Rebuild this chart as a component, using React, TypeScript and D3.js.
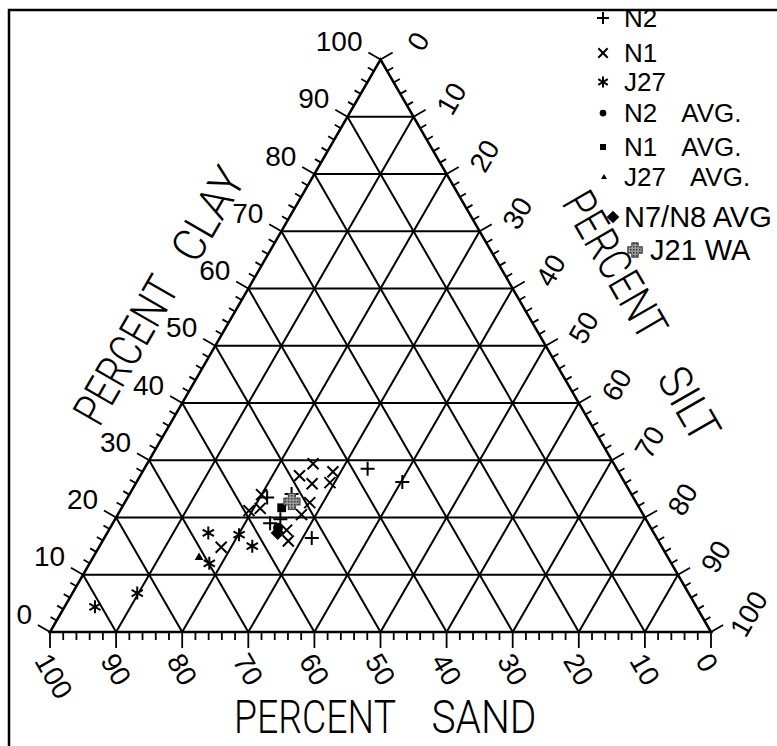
import React from "react";
import * as d3 from "d3";

// ---------- data (percent sand / percent clay; silt = 100 - sand - clay) ----------
const n2Sand = [37.7, 33.6, 52.2, 55.4, 57.2, 55.3, 51.4];
const n2Clay = [28.5, 26.2, 16.4, 23.5, 19.0, 19.7, 24.1];

const n1Sand = [45.5, 48.6, 43.2, 44.6, 47.4, 49.4, 51.7, 56.0, 57.4, 59.3, 55.3, 56.0, 66.7];
const n1Clay = [29.4, 27.3, 28.0, 26.1, 25.9, 22.6, 20.5, 24.0, 21.6, 21.2, 17.8, 15.9, 14.8];

const j27Sand = [67.4, 62.9, 61.9, 69.9, 83.4, 91.0];
const j27Clay = [17.3, 17.0, 15.0, 12.0, 6.8, 4.4];

const avgNames = ["N2 AVG.", "N1 AVG.", "J27 AVG.", "N7/N8 AVG", "J21 WA"];
const avgSand = [56.4, 54.1, 70.9, 56.9, 52.0];
const avgClay = [18.2, 21.7, 13.1, 17.3, 22.8];

const majorTicks = [0, 10, 20, 30, 40, 50, 60, 70, 80, 90, 100];
const gridLevels = [10, 20, 30, 40, 50, 60, 70, 80, 90];
const minorStep = 2;

const legendLabels = ["N2", "N1", "J27", "N2", "N1", "J27", "N7/N8 AVG", "J21 WA"];

// ---------- geometry ----------
const LEFT = 50;
const RIGHT = 711;
const BASE = 632;
const SIDE = RIGHT - LEFT;
const HEIGHT = (SIDE * Math.sqrt(3)) / 2;

const xs = d3.scaleLinear().domain([0, 100]).range([LEFT, RIGHT]);
const ys = d3.scaleLinear().domain([0, 100]).range([BASE, BASE - HEIGHT]);

function pos(sand: number, clay: number): [number, number] {
  const silt = 100 - sand - clay;
  return [xs(silt + clay / 2), ys(clay)];
}

const FONT = "'Liberation Sans', Arial, Helvetica, sans-serif";
const TFONT = "Roboto, 'Liberation Sans', Arial, sans-serif";

type MK = "plus" | "x" | "ast" | "circle" | "square" | "tri" | "diamond" | "blob";

function Marker({ kind, x, y, s = 1 }: { kind: MK; x: number; y: number; s?: number }) {
  const sw = 2;
  switch (kind) {
    case "plus": {
      const r = 7 * s;
      return <path d={`M${x - r},${y}H${x + r}M${x},${y - r}V${y + r}`} stroke="#000" strokeWidth={sw} fill="none" />;
    }
    case "x": {
      const r = 5.5 * s;
      return <path d={`M${x - r},${y - r}L${x + r},${y + r}M${x - r},${y + r}L${x + r},${y - r}`} stroke="#000" strokeWidth={sw} fill="none" />;
    }
    case "ast": {
      const r = 6.5 * s;
      const a = r * Math.cos(Math.PI / 6);
      const b = r * Math.sin(Math.PI / 6);
      return (
        <path
          d={`M${x},${y - r}V${y + r}M${x - a},${y - b}L${x + a},${y + b}M${x - a},${y + b}L${x + a},${y - b}`}
          stroke="#000"
          strokeWidth={sw}
          fill="none"
        />
      );
    }
    case "circle":
      return <circle cx={x} cy={y} r={4.5 * s} fill="#000" />;
    case "square":
      return <rect x={x - 4 * s} y={y - 4 * s} width={8 * s} height={8 * s} fill="#000" />;
    case "tri": {
      const r = 4 * s;
      return <path d={`M${x},${y - r}L${x + r},${y + r * 0.7}L${x - r},${y + r * 0.7}Z`} fill="#000" />;
    }
    case "diamond": {
      const r = 7 * s;
      return <path d={`M${x},${y - r}L${x + r},${y}L${x},${y + r}L${x - r},${y}Z`} fill="#000" />;
    }
    case "blob": {
      const a = 3.5 * s;
      const b = 8 * s;
      const d = `M${x - a},${y - b}H${x + a}V${y - a}H${x + b}V${y + a}H${x + a}V${y + b}H${x - a}V${y + a}H${x - b}V${y - a}H${x - a}Z`;
      return (
        <g>
          <path d={d} fill="url(#stipple)" stroke="#444" strokeWidth={1.2} strokeLinejoin="round" />
          <circle cx={x} cy={y} r={5.5 * s} fill="url(#stipple)" stroke="none" />
        </g>
      );
    }
  }
  return null;
}

const avgKinds: MK[] = ["circle", "square", "tri", "diamond", "blob"];
const legendKinds: MK[] = ["plus", "x", "ast", "circle", "square", "tri", "diamond", "blob"];

export default function App() {
  const apex = pos(0, 100);
  const lc = pos(100, 0);
  const rc = pos(0, 0);

  const grid: JSX.Element[] = [];
  gridLevels.forEach((k) => {
    const a1 = pos(100 - k, k), a2 = pos(0, k);
    const b1 = pos(k, 0), b2 = pos(k, 100 - k);
    const c1 = pos(100 - k, 0), c2 = pos(0, 100 - k);
    grid.push(<line key={"c" + k} x1={a1[0]} y1={a1[1]} x2={a2[0]} y2={a2[1]} />);
    grid.push(<line key={"s" + k} x1={b1[0]} y1={b1[1]} x2={b2[0]} y2={b2[1]} />);
    grid.push(<line key={"t" + k} x1={c1[0]} y1={c1[1]} x2={c2[0]} y2={c2[1]} />);
  });

  const ticks: JSX.Element[] = [];
  const c30 = Math.cos(Math.PI / 6), s30 = 0.5;
  for (let v = 0; v <= 100; v += minorStep) {
    const major = v % 10 === 0;
    const L = major ? 14 : 7;
    const LB = major ? 16 : 8;
    const pl = pos(100 - v, v);
    ticks.push(<line key={"lt" + v} x1={pl[0]} y1={pl[1]} x2={pl[0] - c30 * L} y2={pl[1] - s30 * L} />);
    const pr = pos(0, 100 - v);
    ticks.push(<line key={"rt" + v} x1={pr[0]} y1={pr[1]} x2={pr[0] + c30 * L} y2={pr[1] - s30 * L} />);
    const pb = pos(v, 0);
    ticks.push(<line key={"bt" + v} x1={pb[0]} y1={pb[1]} x2={pb[0]} y2={pb[1] + LB} />);
  }

  const labels: JSX.Element[] = [];
  majorTicks.forEach((v) => {
    const pl = pos(100 - v, v);
    labels.push(
      <text key={"ll" + v} x={pl[0] - 18} y={pl[1] - 18} textAnchor="end" dominantBaseline="central" fontSize={28}>
        {v}
      </text>
    );
    const pr = pos(0, 100 - v);
    const rx = pr[0] + 38, ry = pr[1] - 18;
    labels.push(
      <text key={"rl" + v} x={rx} y={ry} textAnchor="middle" dominantBaseline="central" fontSize={28} transform={`rotate(-60 ${rx} ${ry})`}>
        {v}
      </text>
    );
    const pb = pos(v, 0);
    const bx = pb[0] - 8, by = pb[1] + 24;
    labels.push(
      <text key={"bl" + v} x={bx} y={by} textAnchor="start" dominantBaseline="central" fontSize={28} transform={`rotate(60 ${bx} ${by})`}>
        {v}
      </text>
    );
  });

  const points: JSX.Element[] = [];
  n2Sand.forEach((s, i) => {
    const [x, y] = pos(s, n2Clay[i]);
    points.push(<Marker key={"n2" + i} kind="plus" x={x} y={y} />);
  });
  n1Sand.forEach((s, i) => {
    const [x, y] = pos(s, n1Clay[i]);
    points.push(<Marker key={"n1" + i} kind="x" x={x} y={y} />);
  });
  j27Sand.forEach((s, i) => {
    const [x, y] = pos(s, j27Clay[i]);
    points.push(<Marker key={"j27" + i} kind="ast" x={x} y={y} />);
  });
  avgSand.forEach((s, i) => {
    const [x, y] = pos(s, avgClay[i]);
    points.push(<Marker key={"avg" + i} kind={avgKinds[i]} x={x} y={y} s={i >= 3 ? 1 : 1.1} />);
  });

  const legendY = [18, 53, 82, 113, 147, 177, 217, 250];
  const legendMX = [603, 603, 603, 603, 603, 604, 613, 635];
  const legend = legendLabels.map((lab, i) => {
    const big = i >= 6;
    const tx = i === 7 ? 650 : 624;
    return (
      <g key={"lg" + i}>
        <Marker kind={legendKinds[i]} x={legendMX[i]} y={legendY[i]} s={i < 3 ? 0.85 : i < 6 ? 0.75 : 0.9} />
        <text x={tx} y={legendY[i]} dominantBaseline="central" fontSize={big ? 29 : 26}>
          {lab}
          {i >= 3 && i <= 5 ? <tspan dx={24}>AVG.</tspan> : null}
        </text>
      </g>
    );
  });

  return (
    <svg
      width={777}
      height={746}
      style={{ position: "absolute", left: 0, top: 0, background: "#fff" }}
      fontFamily={FONT}
    >
      <defs>
        <pattern id="stipple" width="3" height="3" patternUnits="userSpaceOnUse">
          <rect width="3" height="3" fill="#9a9a9a" />
          <rect width="1.5" height="1.5" fill="#3a3a3a" />
        </pattern>
      </defs>
      <rect x={0} y={0} width={777} height={746} fill="#fff" />
      <rect x={9} y={10} width={900} height={900} fill="none" stroke="#000" strokeWidth={2.5} />

      <g stroke="#000" strokeWidth={2}>{grid}</g>
      <g stroke="#000" strokeWidth={1.8}>{ticks}</g>
      <path d={`M${lc[0]},${lc[1]}L${rc[0]},${rc[1]}L${apex[0]},${apex[1]}Z`} fill="none" stroke="#000" strokeWidth={2.5} />

      <g fill="#000">{labels}</g>

      <g fontFamily={TFONT} fontWeight={300} fontSize={46} fill="#000">
        <text x={315} y={717} textAnchor="middle" dominantBaseline="central" textLength={162} lengthAdjust="spacingAndGlyphs">PERCENT</text>
        <text x={484} y={717} textAnchor="middle" dominantBaseline="central" textLength={105} lengthAdjust="spacingAndGlyphs">SAND</text>
        <g transform="translate(126,350) rotate(-60)">
          <text x={0} y={0} textAnchor="middle" dominantBaseline="central" textLength={162} lengthAdjust="spacingAndGlyphs">PERCENT</text>
        </g>
        <g transform="translate(208,214) rotate(-60)">
          <text x={0} y={0} textAnchor="middle" dominantBaseline="central" textLength={100} lengthAdjust="spacingAndGlyphs">CLAY</text>
        </g>
        <g transform="translate(615,265) rotate(60)">
          <text x={0} y={0} textAnchor="middle" dominantBaseline="central" textLength={162} lengthAdjust="spacingAndGlyphs">PERCENT</text>
        </g>
        <g transform="translate(689,404) rotate(60)">
          <text x={0} y={0} textAnchor="middle" dominantBaseline="central" textLength={78} lengthAdjust="spacingAndGlyphs">SILT</text>
        </g>
      </g>

      <g>{points}</g>
      <g fill="#000">{legend}</g>
    </svg>
  );
}
